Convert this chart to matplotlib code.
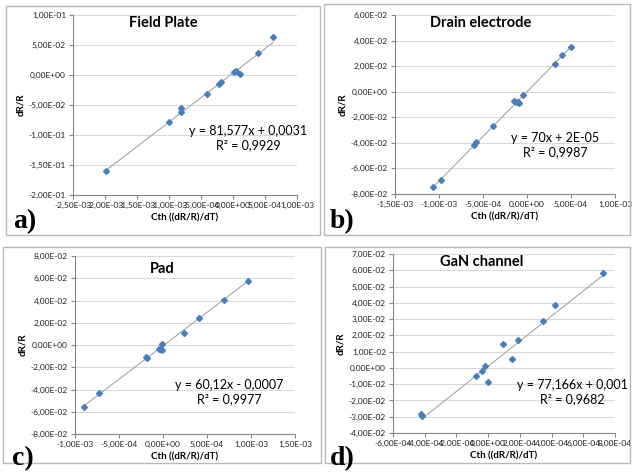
import numpy as np
import matplotlib.pyplot as plt
from matplotlib.patches import Rectangle

plt.rcParams['font.family'] = ['Lato', 'DejaVu Sans']

W, H = 632, 475

# a) Field Plate
fp_x = [-1.985e-3, -1.003e-3, -8.1e-4, -8.15e-4, -4.02e-4, -2.19e-4, -1.83e-4, 1.0e-5, 4.2e-5, 1.1e-4, 3.87e-4, 6.27e-4]
fp_y = [-0.160, -0.0778, -0.0544, -0.0611, -0.0311, -0.0144, -0.0122, 0.0056, 0.0061, 0.0011, 0.0372, 0.0628]
fp_fit = (81.577, 0.0031)

# b) Drain electrode
de_x = [-1.072e-3, -9.81e-4, -5.98e-4, -5.76e-4, -3.9e-4, -1.48e-4, -1.21e-4, -1.06e-4, -9.1e-5, -4.2e-5, 3.14e-4, 3.94e-4, 5.0e-4]
de_y = [-0.0744, -0.0689, -0.0419, -0.0390, -0.0270, -0.0073, -0.0078, -0.0081, -0.0091, -0.0023, 0.0218, 0.0289, 0.0346]
de_fit = (70.0, 2e-5)

# c) Pad
pad_x = [-8.94e-4, -7.23e-4, -1.89e-4, -1.78e-4, -4.9e-5, -3.0e-5, -1.5e-5, -8e-6, 2.42e-4, 4.05e-4, 6.93e-4, 9.62e-4]
pad_y = [-0.0561, -0.0432, -0.0105, -0.0120, -0.0033, -0.0036, 0.0009, -0.0048, 0.0111, 0.0240, 0.0405, 0.0573]
pad_fit = (60.12, -0.0007)

# d) GaN channel
gan_x = [-4.21e-4, -4.19e-4, -7.6e-5, -3.8e-5, -1.7e-5, 0.0, 9.3e-5, 1.52e-4, 1.89e-4, 3.49e-4, 4.19e-4, 7.24e-4]
gan_y = [-0.0281, -0.0293, -0.0049, -0.0016, 0.0012, -0.0088, 0.0145, 0.0055, 0.0174, 0.0287, 0.0387, 0.0582]
gan_fit = (77.166, 0.001)

panels = [
    dict(x=fp_x, y=fp_y, fit=fp_fit, title='Field Plate', tag='a)',
         eq='y = 81,577x + 0,0031\nR² = 0,9929',
         xlim=(-2.5e-3, 1e-3), xstep=5e-4, ylim=(-0.2, 0.1), ystep=0.05,
         box=(73, 15, 297, 195), frame=(6, 6, 320, 235),
         title_pos=(163, 23), eq_pos=(248, 138), tag_pos=(13, 228)),
    dict(x=de_x, y=de_y, fit=de_fit, title='Drain electrode', tag='b)',
         eq='y = 70x + 2E-05\nR² = 0,9987',
         xlim=(-1.5e-3, 1e-3), xstep=5e-4, ylim=(-0.08, 0.06), ystep=0.02,
         box=(395, 15, 615, 194), frame=(324, 4, 630, 235),
         title_pos=(481, 23), eq_pos=(555, 145), tag_pos=(330, 228)),
    dict(x=pad_x, y=pad_y, fit=pad_fit, title='Pad', tag='c)',
         eq='y = 60,12x - 0,0007\nR² = 0,9977',
         xlim=(-1e-3, 1.5e-3), xstep=5e-4, ylim=(-0.08, 0.08), ystep=0.02,
         box=(75, 256, 295, 434), frame=(3, 247, 321, 463),
         title_pos=(162, 269), eq_pos=(229, 392), tag_pos=(12, 465)),
    dict(x=gan_x, y=gan_y, fit=gan_fit, title='GaN channel', tag='d)',
         eq='y = 77,166x + 0,001\nR² = 0,9682',
         xlim=(-6e-4, 8e-4), xstep=2e-4, ylim=(-0.04, 0.07), ystep=0.01,
         box=(393, 254, 615, 433), frame=(325, 247, 630, 463),
         title_pos=(482, 262), eq_pos=(572, 392), tag_pos=(330, 465)),
]


def fmt(v):
    v = 0.0 if abs(v) < 1e-12 else v
    return '{:.2E}'.format(v).replace('.', ',')


def px(x, y):
    return x / W, 1 - y / H


def draw_panel(fig, p):
    l, t, r, b = p['box']
    ax = fig.add_axes([l / W, 1 - b / H, (r - l) / W, (b - t) / H])
    ax.set_xlim(*p['xlim'])
    ax.set_ylim(*p['ylim'])
    nx = int(round((p['xlim'][1] - p['xlim'][0]) / p['xstep']))
    ny = int(round((p['ylim'][1] - p['ylim'][0]) / p['ystep']))
    xt = np.linspace(p['xlim'][0], p['xlim'][1], nx + 1)
    yt = np.linspace(p['ylim'][0], p['ylim'][1], ny + 1)
    ax.set_xticks(xt)
    ax.set_xticklabels([fmt(v) for v in xt])
    ax.set_yticks(yt)
    ax.set_yticklabels([fmt(v) for v in yt])
    ax.tick_params(labelsize=6, colors='#868686', length=3, width=0.8, pad=2)
    for lab in ax.get_xticklabels() + ax.get_yticklabels():
        lab.set_color('#222222')
    ax.grid(axis='y', color='#D9D9D9', linewidth=0.8)
    ax.set_axisbelow(True)
    for s in ['top', 'right']:
        ax.spines[s].set_visible(False)
    for s in ['left', 'bottom']:
        ax.spines[s].set_color('#868686')
        ax.spines[s].set_linewidth(0.8)

    k, c = p['fit']
    xs = np.array([min(p['x']), max(p['x'])])
    ax.plot(xs, k * xs + c, color='#A6A6A6', linewidth=0.8, zorder=2)
    ax.plot(p['x'], p['y'], linestyle='none', marker='D', markersize=3,
            color='#4A7EBB', zorder=3)

    ax.set_xlabel('Cth ((dR/R)/dT)', fontsize=7, fontweight='bold', labelpad=3)
    ax.set_ylabel('dR/R', fontsize=7, fontweight='bold', labelpad=3)

    fig.text(*px(*p['title_pos']), p['title'], fontsize=10.5, fontweight='bold',
             ha='center', va='center')
    fig.text(*px(*p['eq_pos']), p['eq'], fontsize=9, ha='center', va='center',
             multialignment='center', linespacing=1.25)
    fig.text(*px(*p['tag_pos']), p['tag'], fontsize=20, fontweight='bold',
             family='Liberation Serif', ha='left', va='baseline')

    fl, ftop, fr, fb = p['frame']
    fig.patches.append(Rectangle(px(fl, fb), (fr - fl) / W, (fb - ftop) / H,
                                 transform=fig.transFigure, fill=False,
                                 edgecolor='#B8B8B8', linewidth=1))
    return ax


if __name__ == '__main__':
    fig = plt.figure(figsize=(W / 100, H / 100), dpi=100)
    for p in panels:
        draw_panel(fig, p)
    fig.savefig('out.png', dpi=100)
